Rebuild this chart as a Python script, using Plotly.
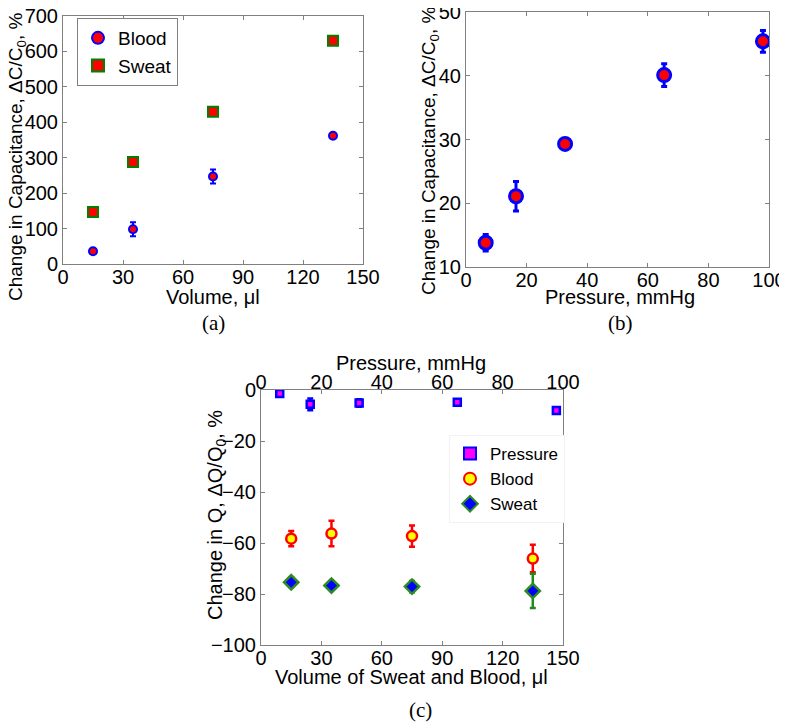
import plotly.graph_objects as go

# ---------------- data ----------------
# (a) capacitance change vs volume
vol_a = [15, 35, 75, 135]
blood_a = [36, 98, 247, 362]
blood_a_err = [8, 20, 20, 7]
sweat_a = [147, 288, 430, 630]
sweat_a_err = [3, 3, 3, 3]

# (b) capacitance change vs pressure
press_b = [6.5, 16.5, 32.7, 65.4, 98.0]
cap_b = [13.8, 21.1, 29.3, 40.1, 45.4]
cap_b_err = [1.3, 2.3, 0.3, 1.8, 1.7]

# (c) Q change
press_c = [6.2, 16.3, 32.5, 65.0, 97.8]
q_press = [-1.4, -5.6, -5.1, -4.8, -8.0]
q_press_err = [0.6, 2.3, 1.5, 1.0, 0.8]
vol_c = [15, 35, 75, 135]
q_blood = [-58.3, -56.3, -57.3, -66.1]
q_blood_err = [3.0, 5.0, 4.2, 5.4]
q_sweat = [-75.4, -76.7, -77.1, -78.8]
q_sweat_err = [1.9, 1.2, 2.2, 6.7]

ticks_a_x = [0, 30, 60, 90, 120, 150]
ticks_a_y = [0, 100, 200, 300, 400, 500, 600, 700]
ticks_b_x = [0, 20, 40, 60, 80, 100]
ticks_b_y = [10, 20, 30, 40, 50]
ticks_c_y = [-100, -80, -60, -40, -20, 0]

FONT = "Liberation Sans, Arial, sans-serif"
SERIF = "Liberation Serif, Times New Roman, serif"
GRAY = "#808080"
BLUE = "#0000ff"
RED = "#ff0000"
GREEN = "#008000"

W, H, OFF = 779, 716, 8  # page body margin offsets the figure by 8 px


def px(X):
    return (X - OFF) / W


def py(Y):
    return 1 - (Y - OFF) / H


fig = go.Figure()

# (a)
fig.add_trace(go.Scatter(
    x=vol_a, y=blood_a, mode="markers", name="Blood",
    error_y=dict(type="data", array=blood_a_err, color=BLUE, thickness=2, width=3),
    marker=dict(symbol="circle", size=8, color=RED, line=dict(color=BLUE, width=2)),
    xaxis="x", yaxis="y", legend="legend"))
fig.add_trace(go.Scatter(
    x=vol_a, y=sweat_a, mode="markers", name="Sweat",
    error_y=dict(type="data", array=sweat_a_err, color=GREEN, thickness=2, width=3),
    marker=dict(symbol="square", size=10, color=RED, line=dict(color=GREEN, width=2)),
    xaxis="x", yaxis="y", legend="legend"))

# (b)
fig.add_trace(go.Scatter(
    x=press_b, y=cap_b, mode="markers", name="Pressure", showlegend=False,
    error_y=dict(type="data", array=cap_b_err, color=BLUE, thickness=3, width=3),
    marker=dict(symbol="circle", size=13, color=RED, line=dict(color=BLUE, width=3)),
    xaxis="x2", yaxis="y2"))

# (c)
fig.add_trace(go.Scatter(
    x=press_c, y=q_press, mode="markers", name="Pressure",
    error_y=dict(type="data", array=q_press_err, color=BLUE, thickness=2.5, width=3),
    marker=dict(symbol="square", size=7, color="#ff00ff", line=dict(color=BLUE, width=2.5)),
    xaxis="x4", yaxis="y3", legend="legend2"))
fig.add_trace(go.Scatter(
    x=vol_c, y=q_blood, mode="markers", name="Blood",
    error_y=dict(type="data", array=q_blood_err, color=RED, thickness=2.5, width=3),
    marker=dict(symbol="circle", size=10, color="#ffff00", line=dict(color=RED, width=2.5)),
    xaxis="x3", yaxis="y3", legend="legend2"))
fig.add_trace(go.Scatter(
    x=vol_c, y=q_sweat, mode="markers", name="Sweat",
    error_y=dict(type="data", array=q_sweat_err, color="#1f8a1f", thickness=2.5, width=3),
    marker=dict(symbol="diamond", size=11, color=BLUE, line=dict(color="#2e8b22", width=2.5)),
    xaxis="x3", yaxis="y3", legend="legend2"))

axis_common = dict(showline=True, linecolor=GRAY, linewidth=1, ticks="inside",
                   ticklen=4, tickcolor=GRAY, showgrid=False, zeroline=False,
                   automargin=False, ticklabeloverflow="allow",
                   tickfont=dict(family=FONT, size=20, color="black"))

fig.update_layout(
    width=W, height=H, margin=dict(l=0, r=0, t=0, b=0),
    paper_bgcolor="white", plot_bgcolor="white",
    font=dict(family=FONT, size=20, color="black"),
    xaxis=dict(domain=[px(63), px(363)], range=[0, 150], tickvals=ticks_a_x, mirror="ticks",
               anchor="y", ticklabelstandoff=-5, **axis_common),
    yaxis=dict(domain=[py(264), py(16)], range=[0, 700], tickvals=ticks_a_y, mirror="ticks",
               anchor="x", **axis_common),
    xaxis2=dict(domain=[px(466), px(769)], range=[0, 100], tickvals=ticks_b_x, mirror="ticks",
                anchor="y2", ticklabelstandoff=-5, **axis_common),
    yaxis2=dict(domain=[py(267), py(12)], range=[10, 50], tickvals=ticks_b_y, mirror="ticks",
                anchor="x2", **axis_common),
    xaxis3=dict(domain=[px(261), px(563)], range=[0, 150], tickvals=ticks_a_x, mirror=False,
                anchor="y3", ticklabelstandoff=-5, **axis_common),
    xaxis4=dict(range=[0, 100], tickvals=ticks_b_x, overlaying="x3", side="top",
                anchor="y3", ticklabelstandoff=-8, **axis_common),
    yaxis3=dict(domain=[py(645), py(390)], range=[-100, 0], tickvals=ticks_c_y, mirror="ticks",
                anchor="x3", **axis_common),
    legend=dict(x=px(77), y=py(18), xanchor="left", yanchor="top", bgcolor="white",
                bordercolor=GRAY, borderwidth=1, font=dict(family=FONT, size=19),
                itemsizing="constant", itemwidth=30, tracegroupgap=0),
    legend2=dict(x=px(449), y=py(435), xanchor="left", yanchor="top", bgcolor="white",
                 bordercolor="#f2f2f2", borderwidth=1, font=dict(family=FONT, size=17),
                 itemsizing="constant", itemwidth=30),
)

titles = [
    # text, X, Y, angle, size
    ("Volume, μl", 213, 297, 0, 20),
    ("Change in Capacitance, ΔC/C<sub>0</sub>, %", 17, 157, -90, 19),
    ("Pressure, mmHg", 620, 297, 0, 20),
    ("Change in Capacitance, ΔC/C<sub>0</sub>, %", 430, 151, -90, 19),
    ("Volume of Sweat and Blood, μl", 411, 677, 0, 20),
    ("Pressure, mmHg", 411, 363, 0, 20),
    ("Change in Q, ΔQ/Q<sub>0</sub>, %", 216, 515, -90, 20),
]
for text, X, Y, ang, sz in titles:
    fig.add_annotation(text=text, x=px(X), y=py(Y), xref="paper", yref="paper",
                       xanchor="center", yanchor="middle", textangle=ang, showarrow=False,
                       font=dict(family=FONT, size=sz, color="black"))

captions = [("(a)", 213, 323), ("(b)", 620, 323), ("(c)", 420, 710)]
for text, X, Y in captions:
    fig.add_annotation(text=text, x=px(X), y=py(Y), xref="paper", yref="paper",
                       xanchor="center", yanchor="middle", showarrow=False,
                       font=dict(family=SERIF, size=21, color="black"))

fig.write_html("out.html")
